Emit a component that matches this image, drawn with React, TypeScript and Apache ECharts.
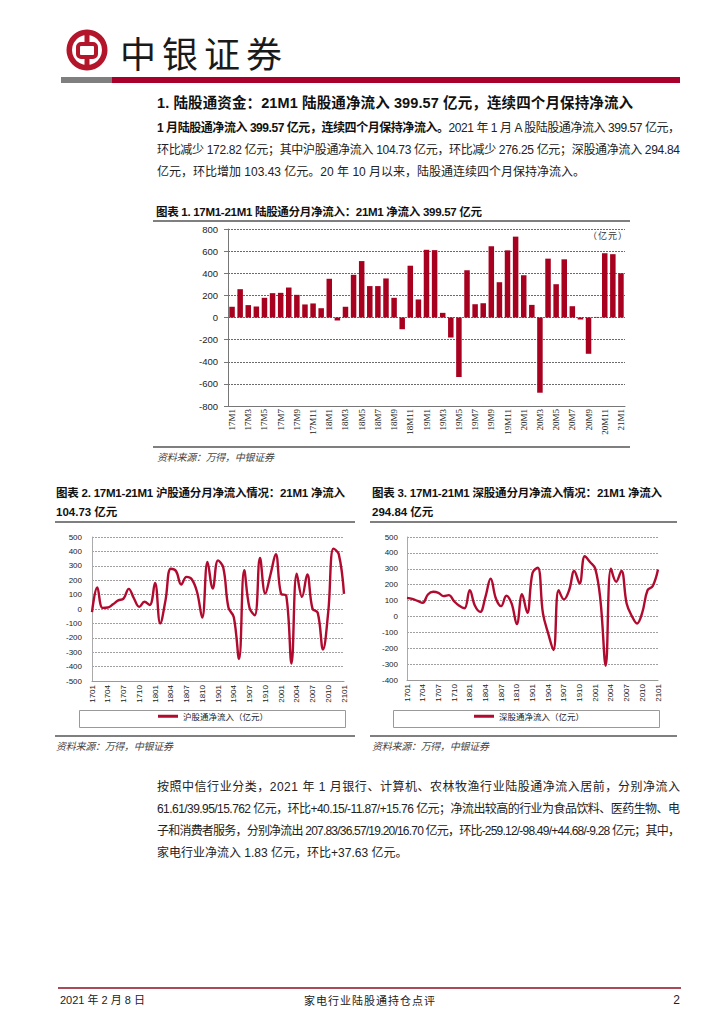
import React, { useEffect, useLayoutEffect, useRef, useState } from "react";
import * as echarts from "echarts";

const barCategories = [
  "17M1","17M2","17M3","17M4","17M5","17M6","17M7","17M8","17M9","17M10","17M11","17M12",
  "18M1","18M2","18M3","18M4","18M5","18M6","18M7","18M8","18M9","18M10","18M11","18M12",
  "19M1","19M2","19M3","19M4","19M5","19M6","19M7","19M8","19M9","19M10","19M11","19M12",
  "20M1","20M2","20M3","20M4","20M5","20M6","20M7","20M8","20M9","20M10","20M11","20M12",
  "21M1",
];
const totalInflow = [
  97, 256, 112, 100, 178, 220, 223, 271, 205, 118, 127, 84,
  350, -27, 97, 386, 510, 284, 284, 353, 178, -106, 468, 163,
  612, 609, 42, -181, -538, 427, 120, 129, 644, 319, 607, 731,
  382, 114, -680, 532, 301, 526, 102, -18, -328, 5, 581, 572.39,
  399.57,
];

const lineCategories = [
  "1701","1702","1703","1704","1705","1706","1707","1708","1709","1710","1711","1712",
  "1801","1802","1803","1804","1805","1806","1807","1808","1809","1810","1811","1812",
  "1901","1902","1903","1904","1905","1906","1907","1908","1909","1910","1911","1912",
  "2001","2002","2003","2004","2005","2006","2007","2008","2009","2010","2011","2012",
  "2101",
];
const shInflow = [
  -22, 150, 8, 10, 33, 60, 72, 140, 73, 15, 50, 28,
  181, -100, 60, 280, 264, 170, 223, 207, 120, -60, 327, 142,
  338, 288, 8, -55, -347, 269, 8, -43, 354, 107, 240, 380,
  107, 93, -378, 246, 84, 240, 3, -27, -281, -20, 419, 380.98,
  104.73,
];
const szInflow = [
  117, 111, 98, 86, 138, 155, 149, 128, 134, 96, 67, 52,
  165, 67, 29, 123, 238, 113, 65, 130, 82, -48, 140, 23,
  274, 307, 19, -107, -211, 165, 107, 165, 287, 207, 379, 343,
  301, 100, -310, 301, 218, 287, 82, 2, -44, 25, 165, 191.41,
  294.84,
];

const RED = "#A8001F";
const LINE_RED = "#B10A2F";
const FONT_CJK = '"Noto Sans CJK SC", sans-serif';
const FONT_MIX = '"Liberation Sans", "Noto Sans CJK SC", sans-serif';

// One line of text whose letter-spacing is adjusted so that it spans exactly w px
// (default), or is only shrunk when it would overflow w (mode "shrink").
function FitText(props: any) {
  const { x, y, w, size, lh, children, style, mode } = props;
  const lineH = lh || Math.round(size * 1.5);
  const spanRef = useRef<HTMLSpanElement>(null);
  const [ls, setLs] = useState<number | null>(null);
  useLayoutEffect(() => {
    const el = spanRef.current;
    if (!el) return;
    const natural = el.getBoundingClientRect().width;
    const n = (el.textContent || "").length;
    if (n < 2) return;
    if (mode === "shrink" && natural <= w) {
      setLs(0);
      return;
    }
    setLs((w - natural) / (n - 1));
  }, []);
  return (
    <div
      style={{
        position: "absolute",
        left: x,
        top: y - lineH / 2,
        fontSize: size,
        lineHeight: lineH + "px",
        whiteSpace: "nowrap",
        ...style,
      }}
    >
      <span ref={spanRef} style={{ letterSpacing: ls == null ? undefined : ls + "px" }}>
        {children}
      </span>
    </div>
  );
}

function T(props: any) {
  const { x, y, size, lh, children, style, w, align } = props;
  const lineH = lh || Math.round(size * 1.5);
  return (
    <div
      style={{
        position: "absolute",
        left: x,
        top: y - lineH / 2,
        width: w,
        fontSize: size,
        lineHeight: lineH + "px",
        whiteSpace: "nowrap",
        textAlign: align || "left",
        ...style,
      }}
    >
      {children}
    </div>
  );
}

export default function App() {
  const ref = useRef<HTMLDivElement>(null);

  useEffect(() => {
    if (!ref.current) return;
    const chart = echarts.init(ref.current, null as any, { renderer: "svg", width: 724, height: 1024 });

    const lineStyleRule = { stroke: "#555", lineWidth: 1.5 };
    const axisLabelBase = { color: "#222", fontFamily: '"Liberation Sans", Arial, sans-serif' };

    const option: any = {
      animation: false,
      textStyle: { fontFamily: FONT_MIX },
      grid: [
        { left: 228, top: 229, width: 397, height: 177 },
        { left: 92, top: 537, width: 252, height: 144 },
        { left: 407, top: 537, width: 251, height: 143 },
      ],
      xAxis: [
        {
          type: "category",
          gridIndex: 0,
          data: barCategories,
          position: "bottom",
          axisLine: { onZero: false, lineStyle: { color: "#777", width: 1 } },
          axisTick: { show: false },
          axisLabel: { ...axisLabelBase, fontSize: 9, rotate: 90, interval: 1, margin: 3, fontFamily: '"Liberation Serif", serif' },
          splitLine: { show: false },
        },
        {
          type: "category",
          gridIndex: 1,
          data: lineCategories,
          boundaryGap: false,
          axisLine: { onZero: false, lineStyle: { color: "#999", width: 1 } },
          axisTick: { show: false },
          axisLabel: { ...axisLabelBase, fontSize: 8, rotate: 90, interval: 2, margin: 4 },
        },
        {
          type: "category",
          gridIndex: 2,
          data: lineCategories,
          boundaryGap: false,
          axisLine: { onZero: false, lineStyle: { color: "#999", width: 1 } },
          axisTick: { show: false },
          axisLabel: { ...axisLabelBase, fontSize: 8, rotate: 90, interval: 2, margin: 4 },
        },
      ],
      yAxis: [
        {
          type: "value",
          gridIndex: 0,
          min: -800,
          max: 800,
          interval: 200,
          axisLine: { show: true, lineStyle: { color: "#777" } },
          axisTick: { show: true, length: 4, lineStyle: { color: "#777" } },
          axisLabel: { ...axisLabelBase, fontSize: 9.5, margin: 10 },
          splitLine: { lineStyle: { color: "#444", type: [2, 1], width: 0.8 } },
        },
        {
          type: "value",
          gridIndex: 1,
          min: -500,
          max: 500,
          interval: 100,
          axisLine: { show: true, lineStyle: { color: "#aaa" } },
          axisTick: { show: false },
          axisLabel: { ...axisLabelBase, fontSize: 8, margin: 10 },
          splitLine: { lineStyle: { color: "#888", type: [2, 1], width: 0.8 } },
        },
        {
          type: "value",
          gridIndex: 2,
          min: -400,
          max: 500,
          interval: 100,
          axisLine: { show: true, lineStyle: { color: "#aaa" } },
          axisTick: { show: false },
          axisLabel: { ...axisLabelBase, fontSize: 8, margin: 9 },
          splitLine: { lineStyle: { color: "#888", type: [2, 1], width: 0.8 } },
        },
      ],
      legend: [
        {
          data: ["沪股通净流入（亿元）"],
          left: 158,
          top: 712,
          padding: 0,
          icon: "rect",
          itemWidth: 20,
          itemHeight: 3,
          itemGap: 4,
          textStyle: { fontSize: 8.5, color: "#222", fontFamily: FONT_CJK },
        },
        {
          data: ["深股通净流入（亿元）"],
          left: 474,
          top: 712,
          padding: 0,
          icon: "rect",
          itemWidth: 20,
          itemHeight: 3,
          itemGap: 4,
          textStyle: { fontSize: 8.5, color: "#222", fontFamily: FONT_CJK },
        },
      ],
      series: [
        {
          name: "陆股通净流入（亿元）",
          type: "bar",
          xAxisIndex: 0,
          yAxisIndex: 0,
          data: totalInflow,
          barWidth: 5.5,
          itemStyle: { color: RED },
        },
        {
          name: "沪股通净流入（亿元）",
          type: "line",
          xAxisIndex: 1,
          yAxisIndex: 1,
          data: shInflow,
          smooth: 0.4,
          showSymbol: false,
          lineStyle: { color: LINE_RED, width: 2.4 },
          itemStyle: { color: LINE_RED },
        },
        {
          name: "深股通净流入（亿元）",
          type: "line",
          xAxisIndex: 2,
          yAxisIndex: 2,
          data: szInflow,
          smooth: 0.4,
          showSymbol: false,
          lineStyle: { color: LINE_RED, width: 2.4 },
          itemStyle: { color: LINE_RED },
        },
      ],
      graphic: [
        { type: "ring", shape: { cx: 87, cy: 50, r: 20.5, r0: 15 }, style: { fill: "#B3152B" } },
        { type: "rect", shape: { x: 84.5, y: 33, width: 5, height: 34 }, style: { fill: "#B3152B" } },
        { type: "rect", shape: { x: 78, y: 44, width: 18, height: 13, r: 3 }, style: { fill: "#fff", stroke: "#B3152B", lineWidth: 4 } },
        { type: "rect", shape: { x: 61, y: 77, width: 51, height: 6 }, style: { fill: "#7F7F7F" } },
        { type: "rect", shape: { x: 112, y: 77, width: 568, height: 6 }, style: { fill: "#A8002A" } },
        { type: "line", shape: { x1: 153, y1: 221, x2: 630, y2: 221 }, style: lineStyleRule },
        { type: "line", shape: { x1: 153, y1: 447, x2: 630, y2: 447 }, style: lineStyleRule },
        { type: "line", shape: { x1: 55, y1: 522, x2: 355, y2: 522 }, style: lineStyleRule },
        { type: "line", shape: { x1: 55, y1: 736, x2: 355, y2: 736 }, style: lineStyleRule },
        { type: "line", shape: { x1: 370, y1: 522, x2: 677, y2: 522 }, style: lineStyleRule },
        { type: "line", shape: { x1: 370, y1: 736, x2: 677, y2: 736 }, style: lineStyleRule },
        { type: "rect", shape: { x: 79.5, y: 710.5, width: 266, height: 17 }, style: { fill: "none", stroke: "#999", lineWidth: 1 } },
        { type: "rect", shape: { x: 393.5, y: 710.5, width: 266, height: 17 }, style: { fill: "none", stroke: "#999", lineWidth: 1 } },
        { type: "line", shape: { x1: 58, y1: 988, x2: 681, y2: 988 }, style: { stroke: "#8E0E22", lineWidth: 1.5 } },
      ],
    };
    chart.setOption(option);
    return () => chart.dispose();
  }, []);

  const titleStyle = { fontFamily: FONT_MIX, fontWeight: 700, color: "#111" };
  const srcStyle = { fontFamily: FONT_CJK, fontStyle: "italic", color: "#444" };
  const paraStyle = { fontFamily: FONT_MIX, color: "#222" };

  return (
    <div style={{ position: "absolute", left: 0, top: 0, width: 724, height: 1024, background: "#fff", overflow: "hidden", fontFamily: FONT_CJK }}>
      <div ref={ref} style={{ position: "absolute", left: 0, top: 0, width: 724, height: 1024 }} />

      <T x={120} y={52} size={36} lh={44} style={{ fontFamily: FONT_CJK, letterSpacing: 6, color: "#1a1a1a", fontWeight: 400 }}>
        中银证券
      </T>

      <FitText x={157} y={103} w={476} size={14.5} style={titleStyle}>
        1. 陆股通资金：21M1 陆股通净流入 399.57 亿元，连续四个月保持净流入
      </FitText>

      <FitText x={157} y={128} w={523} size={12} style={paraStyle}>
        <b style={{ color: "#111" }}>1 月陆股通净流入 399.57 亿元，连续四个月保持净流入。</b>2021 年 1 月 A 股陆股通净流入 399.57 亿元，
      </FitText>
      <FitText x={157} y={150} w={523} size={12} style={paraStyle}>
        环比减少 172.82 亿元；其中沪股通净流入 104.73 亿元，环比减少 276.25 亿元；深股通净流入 294.84
      </FitText>
      <FitText x={157} y={172} w={523} size={12} mode="shrink" style={paraStyle}>
        亿元，环比增加 103.43 亿元。20 年 10 月以来，陆股通连续四个月保持净流入。
      </FitText>

      <FitText x={156} y={212} w={326} size={11.5} style={titleStyle}>
        图表 1. 17M1-21M1 陆股通分月净流入：21M1 净流入 399.57 亿元
      </FitText>
      <T x={528} y={236} w={100} size={9} align="right" style={{ fontFamily: FONT_CJK, color: "#333", letterSpacing: 1 }}>
        （亿元）
      </T>
      <FitText x={157} y={456} w={117} size={10} style={srcStyle}>
        资料来源：万得，中银证券
      </FitText>

      <FitText x={56} y={493} w={289} size={11.5} style={titleStyle}>
        图表 2. 17M1-21M1 沪股通分月净流入情况：21M1 净流入
      </FitText>
      <T x={56} y={512} size={11.5} style={titleStyle}>
        104.73 亿元
      </T>
      <FitText x={56} y={745} w={117} size={10} style={srcStyle}>
        资料来源：万得，中银证券
      </FitText>

      <FitText x={372} y={493} w={290} size={11.5} style={titleStyle}>
        图表 3. 17M1-21M1 深股通分月净流入情况：21M1 净流入
      </FitText>
      <T x={372} y={512} size={11.5} style={titleStyle}>
        294.84 亿元
      </T>
      <FitText x={372} y={745} w={117} size={10} style={srcStyle}>
        资料来源：万得，中银证券
      </FitText>

      <FitText x={157} y={787} w={523} size={12} style={paraStyle}>
        按照中信行业分类，2021 年 1 月银行、计算机、农林牧渔行业陆股通净流入居前，分别净流入
      </FitText>
      <FitText x={157} y={809} w={523} size={12} style={paraStyle}>
        61.61/39.95/15.762 亿元，环比+40.15/-11.87/+15.76 亿元；净流出较高的行业为食品饮料、医药生物、电
      </FitText>
      <FitText x={157} y={831} w={523} size={12} style={paraStyle}>
        子和消费者服务，分别净流出 207.83/36.57/19.20/16.70 亿元，环比-259.12/-98.49/+44.68/-9.28 亿元；其中，
      </FitText>
      <FitText x={157} y={853} w={523} size={12} mode="shrink" style={paraStyle}>
        家电行业净流入 1.83 亿元，环比+37.63 亿元。
      </FitText>

      <T x={60} y={1000} size={11} style={{ fontFamily: FONT_MIX, color: "#222" }}>
        2021 年 2 月 8 日
      </T>
      <T x={300} y={1000} w={140} size={11} align="center" style={{ fontFamily: FONT_CJK, color: "#222", letterSpacing: 1 }}>
        家电行业陆股通持仓点评
      </T>
      <T x={630} y={1000} w={50} size={12} align="right" style={{ fontFamily: FONT_MIX, color: "#222" }}>
        2
      </T>
    </div>
  );
}
